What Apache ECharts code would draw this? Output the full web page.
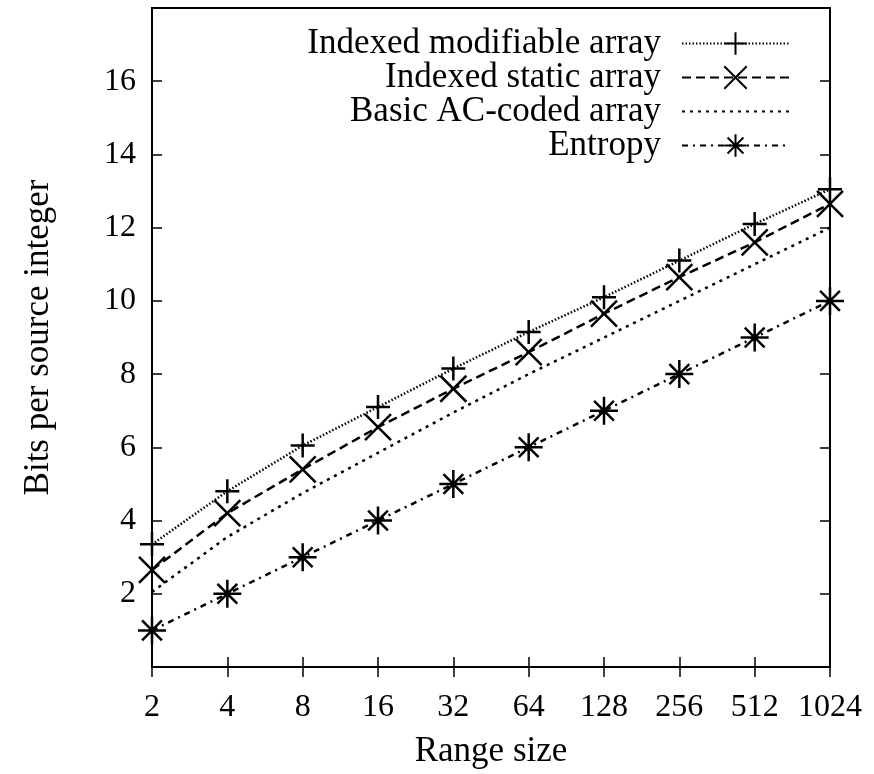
<!DOCTYPE html>
<html><head><meta charset="utf-8">
<script src="https://cdn.jsdelivr.net/npm/echarts@6/dist/echarts.min.js"></script>
<style>html,body{margin:0;padding:0;background:#fff}#c{width:874px;height:774px}</style>
</head><body><div id="c"></div>
<script>
const categories = ['2','4','8','16','32','64','128','256','512','1024'];
const indexedModifiable = [3.35, 4.8, 6.05, 7.1, 8.15, 9.15, 10.1, 11.1, 12.1, 13.05];
const indexedStatic = [2.65, 4.2, 5.4, 6.55, 7.6, 8.6, 9.65, 10.65, 11.6, 12.65];
const basicAC = [2.05, 3.55, 4.75, 5.85, 6.95, 8.0, 9.0, 10.0, 11.0, 12.0];
const entropy = [1, 2, 3, 4, 5, 6, 7, 8, 9, 10];
const yTicks = [2, 4, 6, 8, 10, 12, 14, 16];
const names = ['Indexed modifiable array', 'Indexed static array', 'Basic AC-coded array', 'Entropy'];

const FONT = '"Liberation Serif", "Times New Roman", serif';
const plusPath = 'path://M0,10L20,10M10,0L10,20';
const crossPath = 'path://M0,0L20,20M20,0L0,20';
const starPath = 'path://M0,10L20,10M10,0L10,20M2.93,2.93L17.07,17.07M17.07,2.93L2.93,17.07';

const markerStyle = {color: 'rgba(0,0,0,0)', borderColor: '#000', borderWidth: 2.5};
function mk(name, data, symbol, size, dash) {
  return {
    name, type: 'line', data,
    symbol: symbol || 'none', symbolSize: size, showSymbol: !!symbol,
    lineStyle: {color: '#000', width: 2.5, type: dash},
    itemStyle: markerStyle,
    emphasis: {disabled: true}, animation: false
  };
}
const chart = echarts.init(document.getElementById('c'), null, {renderer: 'canvas'});
chart.setOption({
  backgroundColor: '#fff',
  animation: false,
  grid: {left: 152, right: 44, top: 8, bottom: 106, show: true, borderColor: '#000', borderWidth: 2, backgroundColor: 'transparent'},
  legend: {
    orient: 'vertical', right: 79, top: 21, align: 'right',
    itemWidth: 107, itemHeight: 28, itemGap: -1,
    data: [names[0], names[1], {name: names[2], itemStyle: {opacity: 0, borderWidth: 0}}, names[3]],
    textStyle: {fontFamily: FONT, fontSize: 35, color: '#000', padding: [0, 16, 0, 0]},
    selectedMode: false
  },
  xAxis: [{
    type: 'category', data: categories, boundaryGap: false, position: 'bottom',
    axisLine: {show: true, lineStyle: {color: '#000', width: 2}},
    axisTick: {show: true, inside: true, length: 10, interval: 0, lineStyle: {color: '#000', width: 1.5}},
    axisLabel: {fontFamily: FONT, fontSize: 32, color: '#000', margin: 25, interval: 0, hideOverlap: false},
    splitLine: {show: false},
    name: 'Range size', nameLocation: 'middle', nameGap: 67,
    nameTextStyle: {fontFamily: FONT, fontSize: 35, color: '#000'}
  }, {
    type: 'category', data: categories, boundaryGap: false, position: 'top',
    axisLine: {show: true, lineStyle: {color: '#000', width: 2}},
    axisTick: {show: true, inside: true, length: 10, interval: 0, lineStyle: {color: '#000', width: 1.5}},
    axisLabel: {show: false}, splitLine: {show: false}
  }],
  yAxis: [{
    type: 'value', min: 0, max: 18, interval: 2, position: 'left',
    axisLine: {show: true, lineStyle: {color: '#000', width: 2}},
    axisTick: {show: true, inside: true, length: 10, customValues: yTicks, lineStyle: {color: '#000', width: 1.5}},
    axisLabel: {fontFamily: FONT, fontSize: 32, color: '#000', margin: 16, customValues: yTicks},
    splitLine: {show: false},
    name: 'Bits per source integer', nameLocation: 'middle', nameGap: 96,
    nameTextStyle: {fontFamily: FONT, fontSize: 35, color: '#000'}
  }, {
    type: 'value', min: 0, max: 18, interval: 2, position: 'right',
    axisLine: {show: true, lineStyle: {color: '#000', width: 2}},
    axisTick: {show: true, inside: true, length: 10, customValues: yTicks, lineStyle: {color: '#000', width: 1.5}},
    axisLabel: {show: false}, splitLine: {show: false}
  }],
  series: [
    mk(names[0], indexedModifiable, plusPath, 24, [1.5, 2]),
    mk(names[1], indexedStatic, crossPath, 26, [9, 5]),
    mk(names[2], basicAC, null, 0, [3, 5]),
    mk(names[3], entropy, starPath, 28, [6, 5, 2, 5])
  ]
});
</script></body></html>
